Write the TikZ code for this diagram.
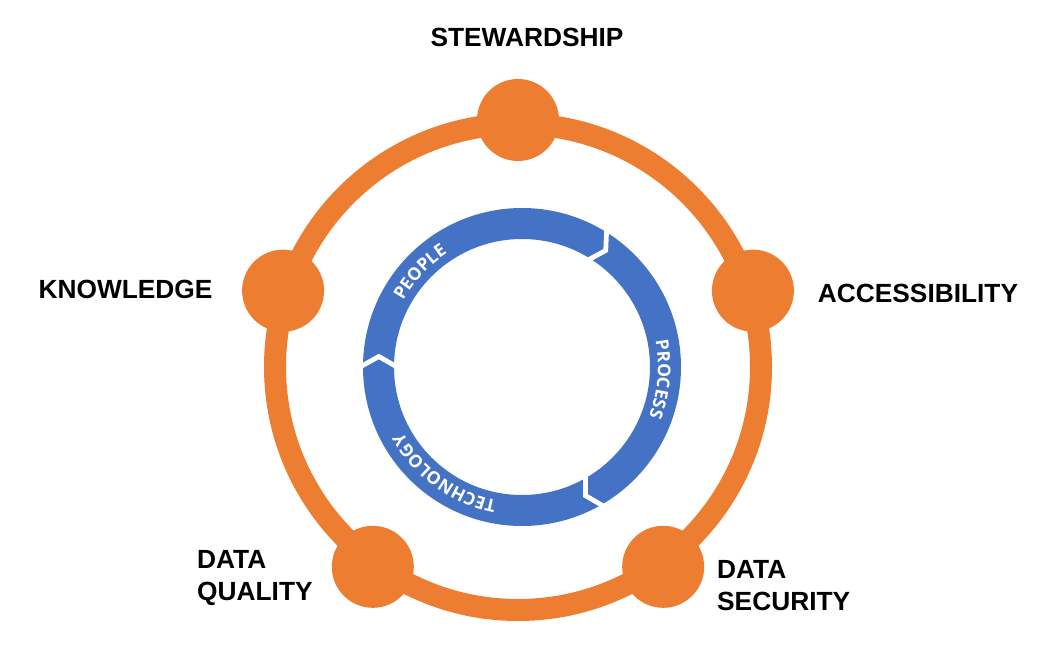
\documentclass[tikz,border=0pt]{standalone}
\usepackage{fontspec}
\setmainfont{Liberation Sans}
\newfontfamily\ringfont{Open Sans}
\usetikzlibrary{decorations.text,calc}
\definecolor{ora}{HTML}{ED7D31}
\definecolor{blu}{HTML}{4472C4}
\begin{document}
\begin{tikzpicture}[x=1pt,y=1pt,
  hub/.style={circle,fill=ora,minimum size=82pt,inner sep=0pt},
  lbl/.style={font=\bfseries\fontsize{26.3}{31}\selectfont, inner sep=0pt, text=black},
  ringtext/.style={decorate, decoration={text along path, text align=center,
     text={|\ringfont\bfseries\fontsize{17.5}{17.5}\selectfont\color{white}|#1}}},
  chev/.style={white, line width=4.8pt, line join=miter}
]
\useasboundingbox[fill=white] (0,0) rectangle (1053,646);
\coordinate (oc) at (518,279);
\coordinate (bc) at (522,279);
% orange ring with hubs
\draw[ora, line width=22pt] (oc) circle[radius=243];
\foreach \n/\a in {s/90, a/18, ds/306, dq/234, k/162}
  \node[hub] (h\n) at ($(oc)+(\a:247)$) {};
% blue cycle ring
\draw[blu, line width=31pt] (bc) circle[radius=143.5];
\foreach \a in {58.5,-59.5,180}
  \draw[chev] ($(bc)+(\a:162)$) -- ($(bc)+(\a-4.2:143.5)$) -- ($(bc)+(\a:125)$);
\path[ringtext=PEOPLE] ($(bc)+(167:136)$) arc[start angle=167, end angle=107, radius=136];
\path[ringtext=PROCESS] ($(bc)+(27:136)$) arc[start angle=27, end angle=-37, radius=136];
\path[ringtext=TECHNOLOGY] ($(bc)+(-92:136)$) arc[start angle=-92, end angle=-160, radius=136];
% labels
\node[lbl, anchor=base] (stew) at (527,599) {STEWARDSHIP};
\node[lbl, anchor=base] (know) at (125.5,347) {KNOWLEDGE};
\node[lbl, anchor=base] (acc) at (918,343) {ACCESSIBILITY};
\node[lbl, anchor=base west, align=left] (dq) at (197,46) {DATA\\QUALITY};
\node[lbl, anchor=base west, align=left] (dsec) at (717,36) {DATA\\SECURITY};
\end{tikzpicture}
\end{document}
